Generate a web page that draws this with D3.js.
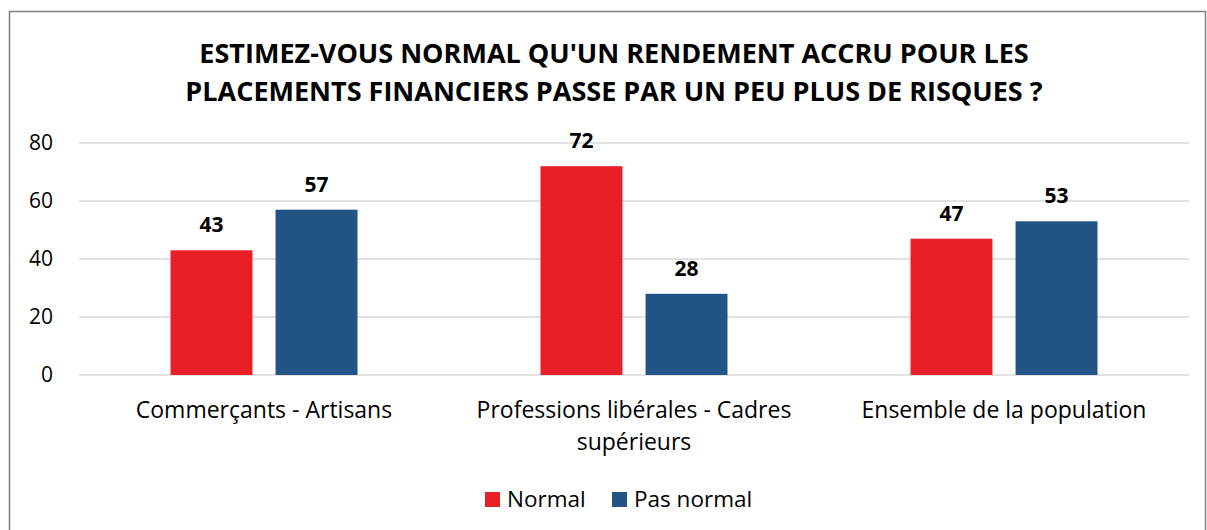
<!DOCTYPE html>
<html>
<head>
<meta charset="utf-8">
<script src="https://cdn.jsdelivr.net/npm/d3@7"></script>
<style>
	body { margin: 0; background: #fff; }
	text { font-family: "Open Sans", "Noto Sans", sans-serif; }
</style>
</head>
<body>
<div id="chart"></div>
<script>
var categories = ["Commerçants - Artisans", "Professions libérales - Cadres supérieurs", "Ensemble de la population"]
var seriesNames = ["Normal", "Pas normal"]
var normal = [43, 72, 47]
var pasNormal = [57, 28, 53]
var yTicks = [0, 20, 40, 60, 80]
var titleLines = ["ESTIMEZ-VOUS NORMAL QU'UN RENDEMENT ACCRU POUR LES", "PLACEMENTS FINANCIERS PASSE PAR UN PEU PLUS DE RISQUES ?"]
var colors = ["#e81f27", "#225586"]

var width = 1207
var height = 530

var svg = d3.select("#chart")
	.append("svg")
	.attr("width", width)
	.attr("height", height)

// frame
svg.append("rect")
	.attr("x", 9.5)
	.attr("y", 11.5)
	.attr("width", 1196)
	.attr("height", 530)
	.style("fill", "none")
	.style("stroke", "#808080")
	.style("stroke-width", 1.5)

// title
svg.append("g").selectAll("text")
	.data(titleLines)
	.enter()
	.append("text")
	.attr("x", 614)
	.attr("y", function (d, i) { return 63 + i * 38 })
	.attr("text-anchor", "middle")
	.style("font-weight", "bold")
	.style("font-size", "27px")
	.text(function (d) { return d })

var x0 = d3.scaleBand()
	.domain(categories)
	.range([79, 1189])

var x1 = d3.scaleBand()
	.domain(seriesNames)
	.range([0, 187])
	.paddingInner(0.22)

var y = d3.scaleLinear()
	.domain([0, 80])
	.range([375, 143])

// gridlines
svg.append("g").selectAll("line")
	.data(yTicks)
	.enter()
	.append("line")
	.attr("x1", 79)
	.attr("x2", 1189)
	.attr("y1", function (d) { return y(d) })
	.attr("y2", function (d) { return y(d) })
	.style("stroke", "#d9d9d9")
	.style("stroke-width", 1.5)

// y axis labels
var yAxis = svg.append("g")
	.attr("transform", "translate(62,0)")
	.call(d3.axisLeft(y).tickValues(yTicks).tickSize(0).tickPadding(9))
yAxis.select(".domain").remove()
yAxis.selectAll("text")
	.style("font-size", "21px")
	.style("font-family", "Open Sans, sans-serif")
	.attr("fill", "#000")

var rows = categories.map(function (c, i) {
	return { cat: c, values: [{ key: seriesNames[0], v: normal[i] }, { key: seriesNames[1], v: pasNormal[i] }] }
})

var groups = svg.append("g").selectAll("g")
	.data(rows)
	.enter()
	.append("g")
	.attr("transform", function (d) { return "translate(" + (x0(d.cat) + x0.bandwidth() / 2 - 93.5) + ",0)" })

groups.selectAll("rect")
	.data(function (d) { return d.values })
	.enter()
	.append("rect")
	.attr("x", function (d) { return x1(d.key) })
	.attr("width", x1.bandwidth())
	.attr("y", function (d) { return y(d.v) })
	.attr("height", function (d) { return y(0) - y(d.v) })
	.attr("fill", function (d, i) { return colors[i] })

groups.selectAll("text")
	.data(function (d) { return d.values })
	.enter()
	.append("text")
	.attr("x", function (d) { return x1(d.key) + x1.bandwidth() / 2 })
	.attr("y", function (d) { return y(d.v) - 18 })
	.attr("text-anchor", "middle")
	.style("font-weight", "bold")
	.style("font-size", "21px")
	.text(function (d) { return d.v })

// category labels
var catLines = [["Commerçants - Artisans"], ["Professions libérales - Cadres", "supérieurs"], ["Ensemble de la population"]]
svg.append("g").selectAll("text")
	.data(categories)
	.enter()
	.append("text")
	.attr("x", function (d) { return x0(d) + x0.bandwidth() / 2 })
	.attr("y", 418)
	.attr("text-anchor", "middle")
	.style("font-size", "23px")
	.each(function (d, i) {
		d3.select(this).selectAll("tspan")
			.data(catLines[i])
			.enter()
			.append("tspan")
			.attr("x", x0(d) + x0.bandwidth() / 2)
			.attr("dy", function (t, j) { return j === 0 ? 0 : 32 })
			.text(function (t) { return t })
	})

// legend
var legend = svg.append("g").selectAll("g")
	.data(seriesNames)
	.enter()
	.append("g")
	.attr("transform", function (d, i) { return "translate(" + (485 + i * 127) + ",492)" })

legend.append("rect")
	.attr("width", 15)
	.attr("height", 15)
	.attr("fill", function (d, i) { return colors[i] })

legend.append("text")
	.attr("x", 22)
	.attr("y", 15)
	.style("font-size", "22.5px")
	.text(function (d) { return d })
</script>
</body>
</html>
